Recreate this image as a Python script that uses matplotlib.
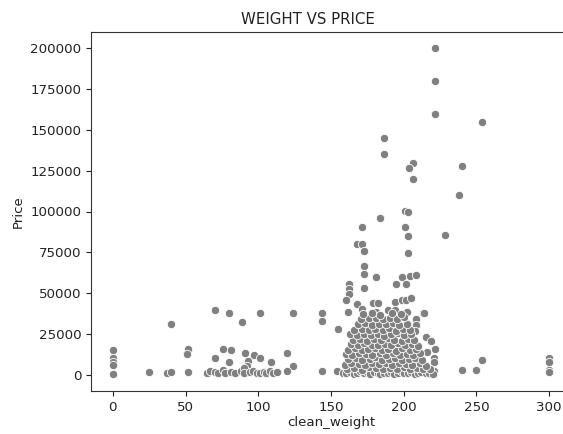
import matplotlib
matplotlib.use("Agg")
import matplotlib.pyplot as plt

# Isolated diamonds outside the main cluster
outlier_weight = [
    0, 0, 0, 0, 0, 25, 37, 40, 40, 52, 51, 52,
    70, 80, 89, 101, 124, 144, 144, 155,
    70, 76, 81, 80, 91, 97, 101, 93, 92, 109, 120, 124, 120,
    64.5, 67, 70.5, 72, 75.5, 77, 81, 84, 88, 90.5, 90, 94, 96.5, 99, 101, 104, 105.5, 108, 110, 113,
    144, 154, 240, 250, 254, 300, 300, 300, 300,
    221, 221, 220.5, 221.5, 216, 215, 219, 213.5, 208.5, 208.5, 208,
]
outlier_price = [
    15000, 10500, 8000, 6000, 500, 1500, 1200, 1800, 31000, 15500, 12800, 1500,
    39500, 38000, 32000, 38000, 37500, 37500, 33000, 28000,
    10000, 15500, 15000, 7500, 13500, 12000, 10000, 8500, 5500, 7500, 13000, 5500, 2000,
    1000, 2200, 1500, 800, 3000, 1200, 1600, 900, 2000, 4000, 1100, 1500, 2200, 900, 1300, 1800, 1000, 2300, 1200, 1500,
    2000, 2500, 3000, 3000, 9000, 10000, 7500, 3000, 1500,
    10000, 8000, 2500, 16000, 14000, 23000, 20500, 38000, 34000, 30500, 26500,
]

# Expensive items above the cluster
high_weight = [
    221.5, 221.5, 221.5, 253.5, 186.5, 186.5, 206.5, 203.5, 240, 206.5, 238,
    201, 203, 183.5, 201, 171, 203, 228.5, 168, 171.5, 172.5, 203,
    172.5, 173, 181, 198.5, 204, 208.5, 194.5, 201.5, 162.5, 162.5, 162.5, 173,
    160, 168, 171.5, 179, 182.5, 194, 198.5, 201.5, 205, 162, 181, 189.5, 194, 202, 214,
]
high_price = [
    200000, 180000, 160000, 155000, 145000, 135000, 130000, 126500, 128000, 120000, 110000,
    100500, 100000, 96000, 90500, 90500, 85000, 85500, 80000, 80000, 75500, 74500,
    66500, 62000, 60000, 60000, 60500, 61000, 55500, 55500, 55500, 52500, 49500, 53000,
    45500, 43500, 40500, 44000, 44000, 44500, 45500, 46000, 47000, 38500, 38500, 39500, 39500, 38500, 38000,
]

# Bulk of the listings between roughly 160 and 220
cluster_weight = [
    158, 160.5, 163, 165.5, 168, 170, 172.5, 175, 177, 179.5, 182, 184, 186.5, 189,
    191, 193.5, 196, 198, 200.5, 203, 205, 207.5, 210, 212, 215, 217.5, 220,
    161, 166, 171.5, 176, 181, 186, 190.5, 195.5, 200, 204.5, 209, 213.5, 218,
    159.5, 164, 169, 173.5, 178, 183, 187.5, 192, 197, 201.5, 206, 211, 215.5,
    162, 167, 171, 176.5, 180.5, 185, 190, 194, 199, 203.5, 208, 212.5,
    160, 164.5, 169.5, 174, 178.5, 183.5, 188, 192.5, 197.5, 202, 206.5, 211,
    161.5, 166.5, 171, 175.5, 180, 185, 189.5, 194.5, 199, 204, 208.5,
    163.5, 168.5, 173, 178, 182.5, 187, 191.5, 196, 201, 205.5, 210,
    165, 170, 175, 179.5, 184.5, 189, 193.5, 198.5, 203, 207,
    163, 168, 172.5, 177.5, 182, 186.5, 191, 196, 200.5, 205,
    166, 171, 176, 180.5, 185.5, 190, 195, 199.5, 204,
    168.5, 173.5, 178.5, 183, 188, 192.5, 197, 202,
    170.5, 176, 181, 186, 190.5, 195.5, 200,
    172, 178, 184, 192, 198,
]
cluster_price = [
    1200, 800, 1500, 600, 1100, 2000, 900, 1400, 700, 1800, 1000, 500, 1300, 900,
    1600, 700, 1200, 2100, 800, 1000, 1500, 600, 1100, 1900, 900, 1300, 700,
    3500, 4200, 3100, 4600, 3800, 3300, 4400, 3600, 4800, 3200, 4100, 3700, 3400,
    6200, 7000, 6600, 5800, 7400, 6300, 6900, 5900, 7200, 6500, 6100, 7300, 5600,
    9400, 10100, 8900, 9800, 10600, 9000, 9700, 10300, 8800, 9900, 10400, 9200,
    12600, 12000, 13200, 12400, 11800, 13000, 12300, 13500, 11900, 12800, 12100, 13300,
    15300, 16100, 14900, 15700, 16400, 15000, 15900, 14700, 16200, 15400, 15800,
    18700, 18100, 19200, 18400, 17900, 19000, 18300, 19500, 18000, 18800, 17700,
    21300, 22100, 20800, 21800, 21000, 22400, 21500, 20700, 22000, 21200,
    24800, 24100, 25200, 24400, 25000, 23900, 24700, 25400, 24200, 25100,
    27600, 28200, 27100, 27900, 27300, 28400, 27000, 28000, 27500,
    30800, 31500, 30400, 31200, 30900, 31700, 30600, 31300,
    34200, 35000, 34600, 33900, 34800, 34300, 35200,
    37300, 37900, 36800, 37600, 36900,
]

weight = outlier_weight + high_weight + cluster_weight
price = outlier_price + high_price + cluster_price

x_ticks = [0, 50, 100, 150, 200, 250, 300]
y_ticks = [0, 25000, 50000, 75000, 100000, 125000, 150000, 175000, 200000]

W, H = 563, 434
PX_PER_UNIT = 1.4544
AX_W = 520  # plot area is wider than the canvas; its right side is cut off
fig = plt.figure(figsize=(W / 100, H / 100), dpi=100)
ax = fig.add_axes([91 / W, (H - 391) / H, AX_W / W, 359 / H])

ax.scatter(weight, price, s=36, color="#808080", edgecolors="white", linewidths=0.6, zorder=3)

ax.set_xlim(-15, -15 + AX_W / PX_PER_UNIT)
ax.set_ylim(-10000, 210000)
ax.set_xticks(x_ticks)
ax.set_yticks(y_ticks)
ax.tick_params(labelsize=9.6, colors="#222222", length=3.5, width=0.8)
for sp in ax.spines.values():
    sp.set_color("#333333")
    sp.set_linewidth(0.8)
ax.spines["right"].set_visible(False)

ax.set_xlabel("clean_weight", fontsize=9.6, color="#222222")
ax.xaxis.set_label_coords((331 - 91) / AX_W, -0.07)
ax.set_ylabel("Price", fontsize=9.6, color="#222222")
fig.text(308 / W, 1 - 19 / H, "WEIGHT VS PRICE", ha="center", va="center",
         fontsize=10.8, color="#222222")

fig.savefig("out.png", dpi=100)
